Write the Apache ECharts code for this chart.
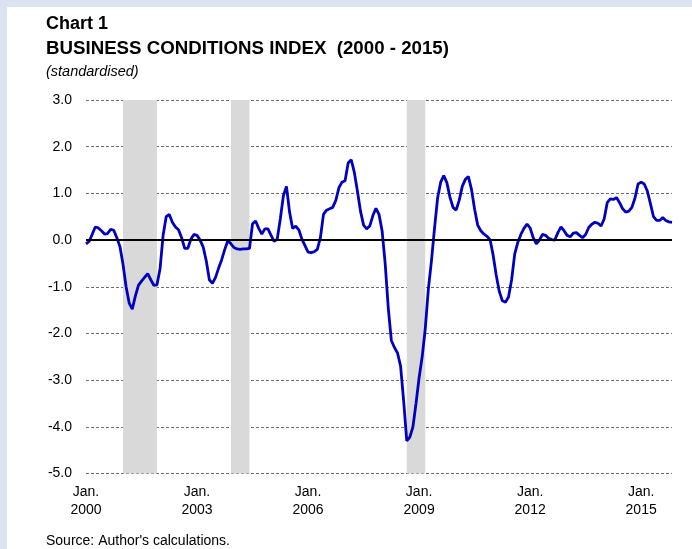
<!DOCTYPE html>
<html>
<head>
<meta charset="utf-8">
<script src="https://cdn.jsdelivr.net/npm/echarts@6/dist/echarts.min.js"></script>
<style>
html,body{margin:0;padding:0;background:#dbe3f0;}
#frame{position:absolute;left:7px;top:7px;width:685px;height:542px;background:#ffffff;}
#chart{position:absolute;left:0;top:0;width:692px;height:549px;}
</style>
</head>
<body>
<div id="frame"></div>
<div id="chart"></div>
<script>
// Months Jan 2000 .. Nov 2015
const startYear = 2000;
const months = [];
for (let i = 0; i < 191; i++) {
  const y = startYear + Math.floor(i / 12);
  const m = (i % 12) + 1;
  months.push(y + '-' + (m < 10 ? '0' + m : m));
}

// Business conditions index (standardised), monthly
const indexValues = [
  -0.08, -0.03, 0.12, 0.28, 0.26, 0.20, 0.13, 0.14, 0.23, 0.21, 0.05, -0.14,
  -0.52, -1.00, -1.35, -1.48, -1.20, -0.97, -0.88, -0.80, -0.72, -0.85, -0.97, -0.96,
  -0.62, 0.10, 0.50, 0.55, 0.38, 0.28, 0.22, 0.05, -0.18, -0.18, 0.02, 0.12,
  0.10, 0.00, -0.15, -0.45, -0.85, -0.93, -0.80, -0.60, -0.42, -0.20, -0.01, -0.08,
  -0.16, -0.19, -0.20, -0.19, -0.19, -0.18, 0.35, 0.41, 0.25, 0.13, 0.24, 0.24,
  0.10, -0.03, 0.02, 0.45, 0.95, 1.15, 0.60, 0.25, 0.30, 0.22, 0.02, -0.12,
  -0.26, -0.27, -0.25, -0.20, 0.05, 0.55, 0.64, 0.67, 0.70, 0.85, 1.12, 1.24,
  1.27, 1.65, 1.72, 1.45, 1.05, 0.62, 0.32, 0.24, 0.30, 0.52, 0.68, 0.55,
  0.20, -0.50, -1.45, -2.15, -2.30, -2.42, -2.70, -3.45, -4.30, -4.22, -4.00, -3.50,
  -2.95, -2.50, -1.90, -1.05, -0.45, 0.25, 0.90, 1.24, 1.38, 1.23, 0.92, 0.70,
  0.64, 0.85, 1.15, 1.30, 1.36, 1.08, 0.66, 0.32, 0.20, 0.13, 0.08, 0.01,
  -0.32, -0.75, -1.10, -1.30, -1.33, -1.22, -0.85, -0.30, -0.05, 0.12, 0.25, 0.34,
  0.26, 0.05, -0.08, 0.00, 0.12, 0.10, 0.04, 0.01, 0.00, 0.16, 0.28, 0.20,
  0.10, 0.07, 0.15, 0.16, 0.10, 0.05, 0.12, 0.27, 0.34, 0.38, 0.36, 0.30,
  0.45, 0.80, 0.88, 0.87, 0.91, 0.80, 0.67, 0.60, 0.62, 0.70, 0.90, 1.20,
  1.24, 1.20, 1.05, 0.78, 0.50, 0.42, 0.42, 0.48, 0.42, 0.39, 0.38
];

// Shaded periods (start month, end month)
const shadedPeriods = [
  ['2001-01', '2001-12'],
  ['2003-12', '2004-06'],
  ['2008-09', '2009-03']
];

const yTicks = { min: -5, max: 3, interval: 1 };

const chart = echarts.init(document.getElementById('chart'), null, { renderer: 'canvas' });
const fontFam = '"Liberation Sans", Arial, sans-serif';

chart.setOption({
  backgroundColor: 'transparent',
  animation: false,
  title: [
    { text: 'Chart 1', left: 46, top: 15, padding: 0, textStyle: { fontFamily: fontFam, fontSize: 18, fontWeight: 'bold', color: '#000' } },
    { text: 'BUSINESS CONDITIONS INDEX  (2000 - 2015)', left: 46, top: 39, padding: 0, textStyle: { fontFamily: fontFam, fontSize: 18.7, fontWeight: 'bold', color: '#000' } },
    { text: '(standardised)', left: 46, top: 64, padding: 0, textStyle: { fontFamily: fontFam, fontSize: 14.5, fontStyle: 'italic', fontWeight: 'normal', color: '#000' } },
    { text: "Source: Author's calculations.", left: 46, top: 534, padding: 0, textStyle: { fontFamily: fontFam, fontSize: 14, fontWeight: 'normal', color: '#000' } }
  ],
  grid: { left: 86, right: 20, top: 100, bottom: 75.5, containLabel: false },
  xAxis: {
    type: 'category',
    data: months,
    boundaryGap: false,
    axisLine: { show: false },
    axisTick: { show: false },
    splitLine: { show: false },
    axisLabel: {
      interval: function (idx) { return idx % 36 === 0; },
      formatter: function (v) { return 'Jan.\n' + v.slice(0, 4); },
      fontFamily: fontFam, fontSize: 14, color: '#000', lineHeight: 18, margin: 10
    }
  },
  yAxis: {
    type: 'value',
    min: yTicks.min, max: yTicks.max, interval: yTicks.interval,
    axisLine: { show: false },
    axisTick: { show: false },
    axisLabel: {
      formatter: function (v) { return v.toFixed(1); },
      fontFamily: fontFam, fontSize: 14, color: '#000', margin: 14
    },
    splitLine: { show: true, lineStyle: { color: '#6e6e6e', width: 1, type: [3, 2] } }
  },
  series: [
    {
      type: 'line',
      data: [],
      z: 1,
      silent: true,
      markArea: {
        silent: true,
        itemStyle: { color: '#d9d9d9' },
        data: shadedPeriods.map(p => [{ xAxis: p[0] }, { xAxis: p[1] }])
      }
    },
    {
      type: 'line',
      data: indexValues,
      z: 3,
      symbol: 'none',
      smooth: false,
      lineStyle: { color: '#0000c0', width: 2.8 },
      markLine: {
        silent: true,
        symbol: 'none',
        label: { show: false },
        lineStyle: { color: '#000', width: 2, type: 'solid' },
        data: [{ yAxis: 0 }]
      }
    }
  ]
});
</script>
</body>
</html>
